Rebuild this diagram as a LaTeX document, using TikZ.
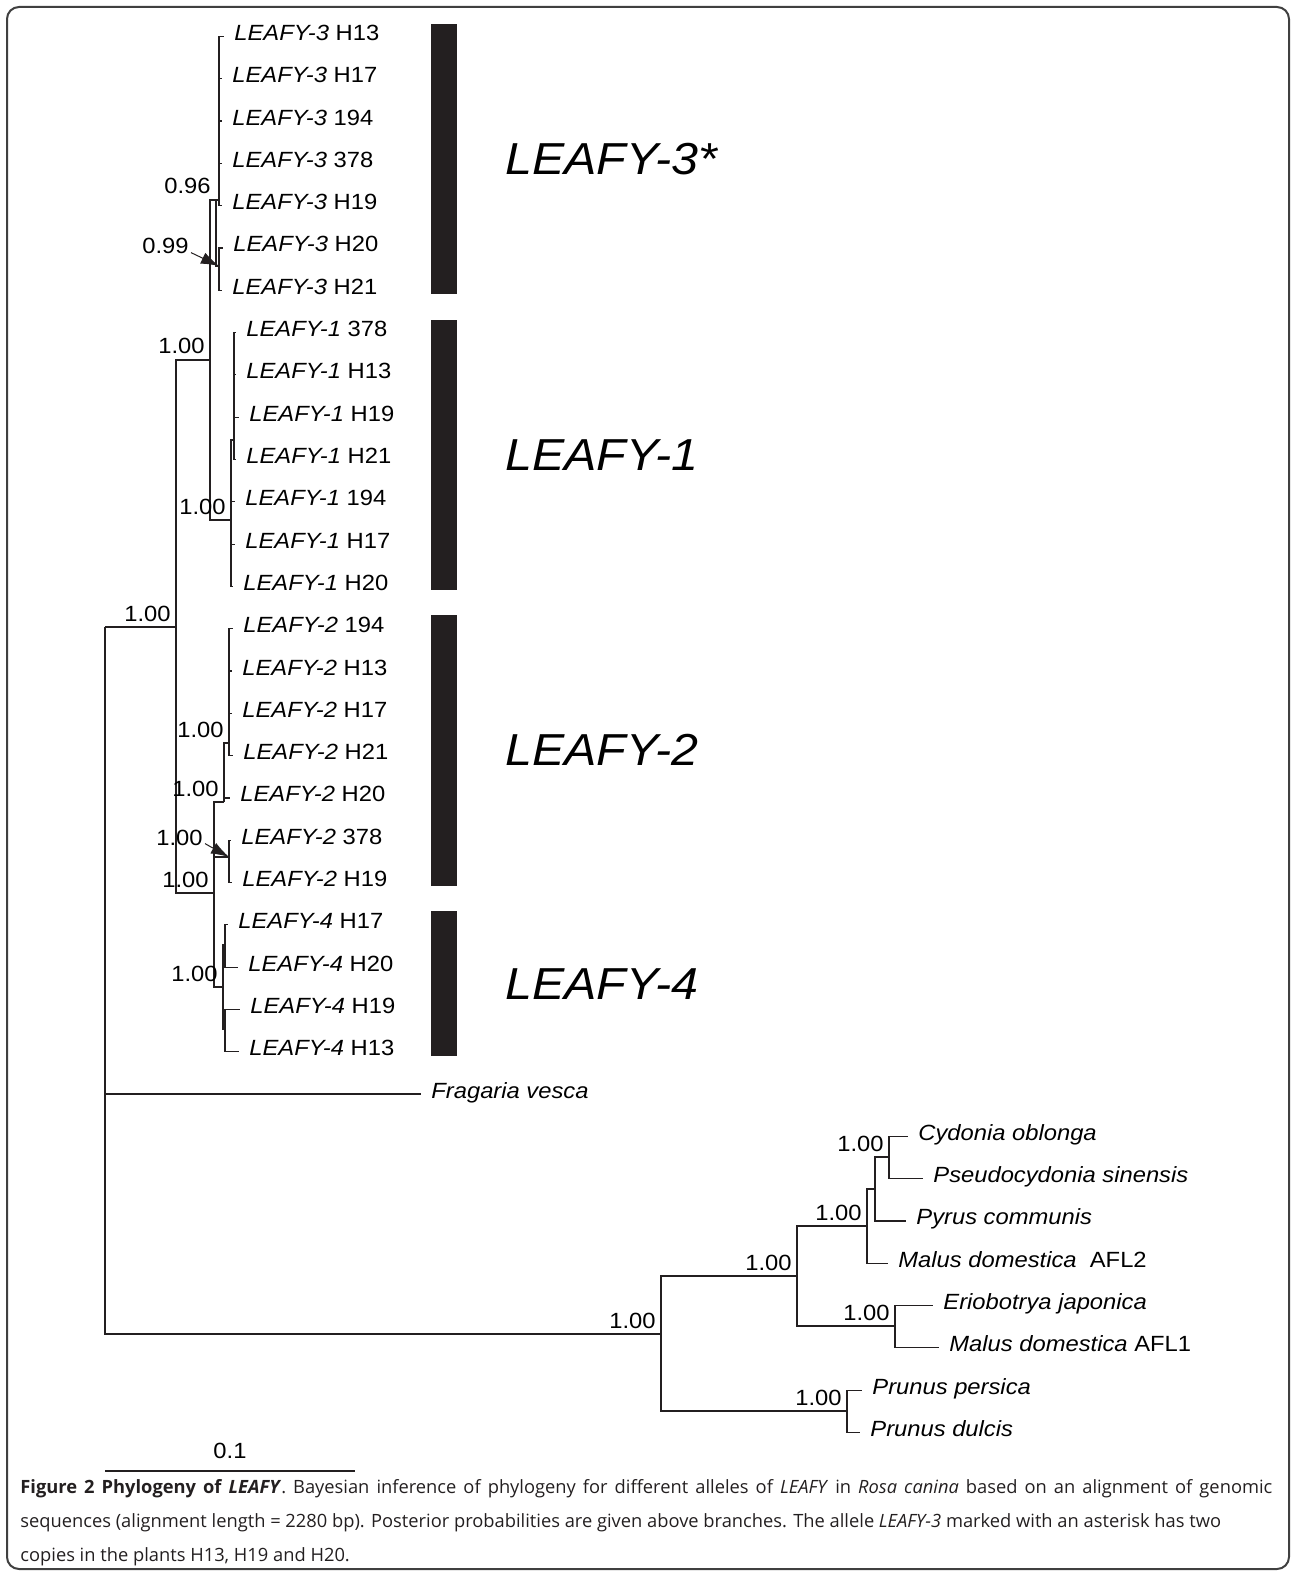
\documentclass[tikz,border=0pt]{standalone}
\usepackage{fontspec}
\newfontfamily\treefont[FakeStretch=1.08]{Liberation Sans}
\newfontfamily\capfont{Open Sans}
\usetikzlibrary{arrows.meta}

\definecolor{inkgray}{HTML}{231F20}

\tikzset{
  taxon/.style={anchor=west, inner xsep=5pt, inner ysep=0pt, text height=6pt, text depth=2pt,
    font=\treefont\fontsize{11}{13}\selectfont},
  pp/.style={anchor=base east, inner sep=0pt, xshift=-2.5pt, yshift=3pt,
    font=\treefont\fontsize{11}{13}\selectfont},
  clade/.style={anchor=west, inner sep=0pt, font=\treefont\fontsize{22.4}{26}\selectfont\itshape},
  branch/.style={draw=inkgray, line width=0.6pt},
  pointer/.style={-{Latex[length=9pt,width=6pt]}, inkgray, line width=0.5pt}
}

\begin{document}
\begin{tikzpicture}[x=0.5pt, y=-0.5pt]

\useasboundingbox (0,0) rectangle (1292,1572);
\draw[rounded corners=6pt, line width=1pt, draw=black!75] (7,7) rectangle (1289,1569);

\coordinate (r) at (105, 627);
\coordinate (cl) at (176, 627);
\coordinate (c31) at (210, 360);
\coordinate (c3) at (216, 200);
\coordinate (c3a) at (219, 200);
\coordinate (c3b) at (219, 266);
\coordinate (c1) at (231, 520);
\coordinate (c1a) at (234, 440);
\coordinate (c24) at (214, 893);
\coordinate (c2) at (224, 802);
\coordinate (c2a) at (229, 743);
\coordinate (c2b) at (229, 857);
\coordinate (c4) at (223, 987);
\coordinate (c4a) at (225, 945);
\coordinate (c4b) at (225, 1029);
\coordinate (out) at (661, 1334);
\coordinate (c5) at (797, 1276);
\coordinate (c6) at (867, 1226);
\coordinate (c6a) at (875, 1189);
\coordinate (c6b) at (889, 1157);
\coordinate (c7) at (895, 1326);
\coordinate (c8) at (847, 1411);

\node[taxon] (l3h13) at (224, 36.5) {\textit{LEAFY-3} H13};
\node[taxon] (l3h17) at (222, 78.8) {\textit{LEAFY-3} H17};
\node[taxon] (l3x194) at (222, 121.1) {\textit{LEAFY-3} 194};
\node[taxon] (l3x378) at (222, 163.4) {\textit{LEAFY-3} 378};
\node[taxon] (l3h19) at (222, 205.7) {\textit{LEAFY-3} H19};
\node[taxon] (l3h20) at (223, 248.0) {\textit{LEAFY-3} H20};
\node[taxon] (l3h21) at (222, 290.3) {\textit{LEAFY-3} H21};
\node[taxon] (l1x378) at (236, 332.6) {\textit{LEAFY-1} 378};
\node[taxon] (l1h13) at (236, 374.9) {\textit{LEAFY-1} H13};
\node[taxon] (l1h19) at (239, 417.2) {\textit{LEAFY-1} H19};
\node[taxon] (l1h21) at (236, 459.5) {\textit{LEAFY-1} H21};
\node[taxon] (l1x194) at (235, 501.8) {\textit{LEAFY-1} 194};
\node[taxon] (l1h17) at (235, 544.1) {\textit{LEAFY-1} H17};
\node[taxon] (l1h20) at (233, 586.4) {\textit{LEAFY-1} H20};
\node[taxon] (l2x194) at (233, 628.7) {\textit{LEAFY-2} 194};
\node[taxon] (l2h13) at (232, 671.0) {\textit{LEAFY-2} H13};
\node[taxon] (l2h17) at (232, 713.3) {\textit{LEAFY-2} H17};
\node[taxon] (l2h21) at (233, 755.6) {\textit{LEAFY-2} H21};
\node[taxon] (l2h20) at (230, 797.9) {\textit{LEAFY-2} H20};
\node[taxon] (l2x378) at (231, 840.2) {\textit{LEAFY-2} 378};
\node[taxon] (l2h19) at (232, 882.5) {\textit{LEAFY-2} H19};
\node[taxon] (l4h17) at (228, 924.8) {\textit{LEAFY-4} H17};
\node[taxon] (l4h20) at (238, 967.1) {\textit{LEAFY-4} H20};
\node[taxon] (l4h19) at (240, 1009.4) {\textit{LEAFY-4} H19};
\node[taxon] (l4h13) at (239, 1051.7) {\textit{LEAFY-4} H13};
\node[taxon] (fves) at (421, 1094.0) {\textit{Fragaria vesca}};
\node[taxon] (cobl) at (908, 1136.3) {\textit{Cydonia oblonga}};
\node[taxon] (psin) at (923, 1178.6) {\textit{Pseudocydonia sinensis}};
\node[taxon] (pcom) at (906, 1220.9) {\textit{Pyrus communis}};
\node[taxon] (mdom2) at (888, 1263.2) {\textit{Malus domestica}~ AFL2};
\node[taxon] (ejap) at (933, 1305.5) {\textit{Eriobotrya japonica}};
\node[taxon] (mdom1) at (939, 1347.8) {\textit{Malus domestica} AFL1};
\node[taxon] (ppers) at (862, 1390.1) {\textit{Prunus persica}};
\node[taxon] (pdulc) at (860, 1432.4) {\textit{Prunus dulcis}};

\draw[branch] (r) |- (cl);
\draw[branch] (r) |- (fves.west);
\draw[branch] (r) |- (out);
\draw[branch] (cl) |- (c31);
\draw[branch] (cl) |- (c24);
\draw[branch] (c31) |- (c3);
\draw[branch] (c31) |- (c1);
\draw[branch] (c3) |- (c3a);
\draw[branch] (c3) |- (c3b);
\draw[branch] (c3a) |- (l3h13.west);
\draw[branch] (c3a) |- (l3h17.west);
\draw[branch] (c3a) |- (l3x194.west);
\draw[branch] (c3a) |- (l3x378.west);
\draw[branch] (c3a) |- (l3h19.west);
\draw[branch] (c3b) |- (l3h20.west);
\draw[branch] (c3b) |- (l3h21.west);
\draw[branch] (c1) |- (c1a);
\draw[branch] (c1a) |- (l1x378.west);
\draw[branch] (c1a) |- (l1h13.west);
\draw[branch] (c1a) |- (l1h19.west);
\draw[branch] (c1a) |- (l1h21.west);
\draw[branch] (c1) |- (l1x194.west);
\draw[branch] (c1) |- (l1h17.west);
\draw[branch] (c1) |- (l1h20.west);
\draw[branch] (c24) |- (c2);
\draw[branch] (c24) |- (c2b);
\draw[branch] (c24) |- (c4);
\draw[branch] (c2) |- (c2a);
\draw[branch] (c2) |- (l2h20.west);
\draw[branch] (c2a) |- (l2x194.west);
\draw[branch] (c2a) |- (l2h13.west);
\draw[branch] (c2a) |- (l2h17.west);
\draw[branch] (c2a) |- (l2h21.west);
\draw[branch] (c2b) |- (l2x378.west);
\draw[branch] (c2b) |- (l2h19.west);
\draw[branch] (c4) |- (c4a);
\draw[branch] (c4) |- (c4b);
\draw[branch] (c4a) |- (l4h17.west);
\draw[branch] (c4a) |- (l4h20.west);
\draw[branch] (c4b) |- (l4h19.west);
\draw[branch] (c4b) |- (l4h13.west);
\draw[branch] (out) |- (c5);
\draw[branch] (out) |- (c8);
\draw[branch] (c5) |- (c6);
\draw[branch] (c5) |- (c7);
\draw[branch] (c6) |- (c6a);
\draw[branch] (c6) |- (mdom2.west);
\draw[branch] (c6a) |- (c6b);
\draw[branch] (c6a) |- (pcom.west);
\draw[branch] (c6b) |- (cobl.west);
\draw[branch] (c6b) |- (psin.west);
\draw[branch] (c7) |- (ejap.west);
\draw[branch] (c7) |- (mdom1.west);
\draw[branch] (c8) |- (ppers.west);
\draw[branch] (c8) |- (pdulc.west);

\node[pp] (pcl) at (cl) {1.00};
\node[pp] (p31) at (c31) {1.00};
\node[pp] (p3) at (c3) {0.96};
\node[pp] (p3b) at (194, 260) {0.99};
\node[pp] (p1) at (c1) {1.00};
\node[pp] (p24) at (c24) {1.00};
\node[pp] (p2) at (c2) {1.00};
\node[pp] (p2a) at (c2a) {1.00};
\node[pp] (p2b) at (208, 851) {1.00};
\node[pp] (p4) at (c4) {1.00};
\node[pp] (pout) at (out) {1.00};
\node[pp] (p5) at (c5) {1.00};
\node[pp] (p6) at (c6) {1.00};
\node[pp] (p6b) at (c6b) {1.00};
\node[pp] (p7) at (c7) {1.00};
\node[pp] (p8) at (c8) {1.00};

\draw[pointer] ([xshift=1pt,yshift=1pt]p3b.south east) -- (c3b);
\draw[pointer] ([xshift=1pt,yshift=1pt]p2b.south east) -- (c2b);

\fill[inkgray] (431, 24) rectangle (457, 294);
\fill[inkgray] (431, 320) rectangle (457, 590);
\fill[inkgray] (431, 615) rectangle (457, 886);
\fill[inkgray] (431, 911) rectangle (457, 1056);

\node[clade] (g3) at (505, 159) {LEAFY-3*};
\node[clade] (g1) at (505, 455) {LEAFY-1};
\node[clade] (g2) at (505, 750) {LEAFY-2};
\node[clade] (g4) at (505, 984) {LEAFY-4};

\coordinate (sb0) at (105, 1471);
\coordinate (sb1) at (355, 1471);
\draw[inkgray, line width=0.7pt] (sb0) -- (sb1);
\node[font=\treefont\fontsize{11}{13}\selectfont, inner sep=0pt] (sblab) at (230, 1451) {0.1};

\node[anchor=base west, text width=626pt, align=justify, inner sep=0pt, text=inkgray,
  font=\capfont\fontsize{9.15}{17}\selectfont] (cap) at (20, 1493)
  {{\bfseries Figure 2 Phylogeny of \textit{LEAFY}}. Bayesian inference of phylogeny for different alleles of \textit{LEAFY} in \textit{Rosa canina} based on an alignment of genomic\linebreak
  sequences (alignment length = 2280 bp). Posterior probabilities are given above branches. The allele \textit{LEAFY-3} marked with an asterisk has two\newline
  copies in the plants H13, H19 and H20.};

\end{tikzpicture}
\end{document}
